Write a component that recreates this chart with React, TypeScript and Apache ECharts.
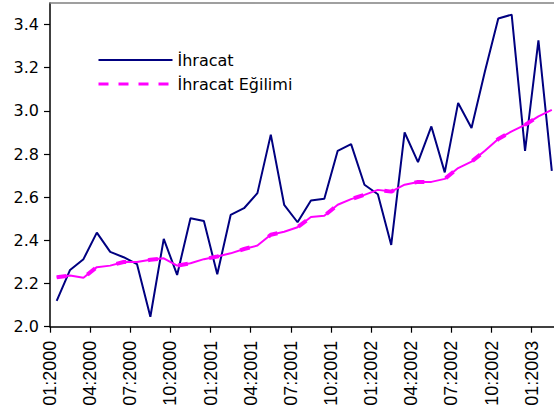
import React, { useEffect, useRef } from "react";
import * as echarts from "echarts";

const months = [
  "01:2000", "02:2000", "03:2000", "04:2000", "05:2000", "06:2000",
  "07:2000", "08:2000", "09:2000", "10:2000", "11:2000", "12:2000",
  "01:2001", "02:2001", "03:2001", "04:2001", "05:2001", "06:2001",
  "07:2001", "08:2001", "09:2001", "10:2001", "11:2001", "12:2001",
  "01:2002", "02:2002", "03:2002", "04:2002", "05:2002", "06:2002",
  "07:2002", "08:2002", "09:2002", "10:2002", "11:2002", "12:2002",
  "01:2003", "02:2003",
];

// tick labels sit on the month boundaries (one more boundary than months)
const boundaryLabels = [...months, "03:2003"];

const exportsValues = [
  2.12, 2.263, 2.313, 2.436, 2.347, 2.322, 2.29, 2.046, 2.407, 2.24,
  2.503, 2.49, 2.243, 2.518, 2.549, 2.619, 2.89, 2.565, 2.484, 2.585,
  2.593, 2.815, 2.846, 2.658, 2.614, 2.379, 2.9, 2.763, 2.928, 2.715,
  3.037, 2.921, 3.183, 3.428, 3.446, 2.815, 3.327, 2.722,
];

const trendValues = [
  2.229, 2.237, 2.227, 2.276, 2.283, 2.3, 2.3, 2.31, 2.317, 2.283,
  2.294, 2.313, 2.325, 2.34, 2.36, 2.376, 2.426, 2.44, 2.461, 2.508,
  2.514, 2.565, 2.591, 2.611, 2.634, 2.626, 2.658, 2.671, 2.671, 2.685,
  2.735, 2.765, 2.815, 2.87, 2.905, 2.935, 2.975, 3.005,
];

const yTicks = [2.0, 2.2, 2.4, 2.6, 2.8, 3.0, 3.2, 3.4];

const seriesNames = ["İhracat", "İhracat Eğilimi"];

export default function App() {
  const ref = useRef<HTMLDivElement>(null);
  useEffect(() => {
    document.body.style.margin = "0";
    const chart = echarts.init(ref.current!, null, { renderer: "svg" });
    chart.setOption({
      animation: false,
      backgroundColor: "#ffffff",
      grid: {
        left: 50,
        right: -4.5,
        top: 3,
        bottom: 87.3,
        outerBoundsMode: "none",
        containLabel: false,
      },
      legend: {
        data: [
          { name: seriesNames[0], lineStyle: { color: "#000080", width: 2 } },
          {
            name: seriesNames[1],
            lineStyle: { color: "#ff00ff", width: 3, type: [10, 10] },
          },
        ],
        orient: "vertical",
        left: 92,
        top: 47,
        itemWidth: 74,
        itemHeight: 14,
        itemGap: 8,
        itemStyle: { opacity: 0, borderWidth: 0 },
        textStyle: { fontFamily: "DejaVu Sans", fontSize: 16, color: "#000" },
      },
      xAxis: [
        {
          type: "category",
          data: months,
          boundaryGap: true,
          position: "bottom",
          axisLine: { lineStyle: { color: "#000", width: 1.5 } },
          axisTick: { show: false },
          axisLabel: { show: false },
          splitLine: { show: false },
        },
        {
          type: "category",
          data: months,
          position: "top",
          axisLine: { lineStyle: { color: "#808080", width: 1.5 } },
          axisTick: { show: false },
          axisLabel: { show: false },
          splitLine: { show: false },
        },
        {
          type: "category",
          data: boundaryLabels,
          boundaryGap: false,
          position: "bottom",
          axisLine: { show: false },
          axisTick: {
            interval: 2,
            alignWithLabel: true,
            length: 6,
            lineStyle: { color: "#000", width: 1.2 },
          },
          axisLabel: {
            interval: 2,
            rotate: 90,
            margin: 14,
            fontFamily: "Liberation Sans",
            fontSize: 18,
            color: "#000",
          },
          splitLine: { show: false },
        },
      ],
      yAxis: {
        type: "value",
        min: 2.0,
        max: 3.5,
        interval: 0.1,
        axisLine: { show: true, lineStyle: { color: "#000", width: 1.5 } },
        axisTick: {
          show: true,
          length: 6,
          customValues: yTicks,
          lineStyle: { color: "#000", width: 1.2 },
        },
        axisLabel: {
          customValues: yTicks,
          formatter: (v: number) => v.toFixed(1),
          margin: 11,
          fontFamily: "DejaVu Sans",
          fontSize: 16,
          color: "#000",
        },
        splitLine: { show: false },
      },
      series: [
        {
          name: seriesNames[0],
          type: "line",
          data: exportsValues,
          showSymbol: false,
          symbol: "none",
          lineStyle: { color: "#000080", width: 2 },
          itemStyle: { color: "#000080" },
        },
        {
          name: "trend-base",
          type: "line",
          data: trendValues,
          showSymbol: false,
          symbol: "none",
          lineStyle: { color: "#ff00ff", width: 2 },
          itemStyle: { color: "#ff00ff" },
        },
        {
          name: seriesNames[1],
          type: "line",
          data: trendValues,
          showSymbol: false,
          symbol: "none",
          lineStyle: { color: "#ff00ff", width: 4, type: [10, 22] },
          itemStyle: { color: "#ff00ff" },
        },
      ],
    });
    return () => chart.dispose();
  }, []);
  return (
    <div
      ref={ref}
      style={{ position: "absolute", left: 0, top: 0, width: 554, height: 414 }}
    />
  );
}
